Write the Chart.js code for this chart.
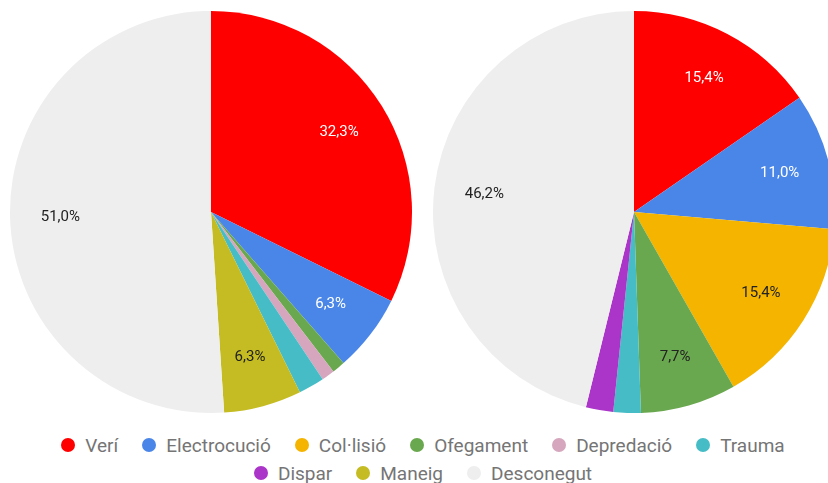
<!DOCTYPE html>
<html>
<head>
<meta charset="utf-8">
<script src="https://cdn.jsdelivr.net/npm/chart.js@4/dist/chart.umd.min.js"></script>
<style>
  html, body { margin: 0; padding: 0; background: #fff; overflow: hidden; }
  body { width: 828px; height: 483px; position: relative; font-family: Roboto, sans-serif; }
  .pie { position: absolute; top: 11px; width: 402px; height: 402px; }
  #legend { position: absolute; left: 18px; top: 431px; width: 810px; color: #757575; font-size: 19px; }
  .row { display: flex; justify-content: center; height: 28px; align-items: center; white-space: nowrap; }
  .item { display: flex; align-items: center; margin: 0 12px; }
  .dot { width: 14px; height: 14px; border-radius: 50%; margin-right: 10px; }
</style>
</head>
<body>
<div class="pie" style="left:10px"><canvas id="pieLeft"></canvas></div>
<div class="pie" style="left:433px"><canvas id="pieRight"></canvas></div>
<div id="legend"></div>
<script>
// ── Data ─────────────────────────────────────────────
const categories  = ['Verí', 'Electrocució', 'Col·lisió', 'Ofegament', 'Depredació', 'Trauma', 'Dispar', 'Maneig', 'Desconegut'];
const leftValues  = [31, 6, 0, 1, 1, 2, 0, 6, 49];
const rightValues = [14, 10, 14, 7, 0, 2, 2, 0, 42];
const colors      = ['#ff0000', '#4a86e8', '#f4b400', '#6aa84f', '#d5a6bd', '#46bdc6', '#aa35c8', '#c4bc22', '#eeeeee'];
const labelColors = ['#ffffff', '#ffffff', '#222222', '#222222', '#222222', '#222222', '#ffffff', '#222222', '#222222'];
const legendRows  = [[0, 1, 2, 3, 4, 5], [6, 7, 8]];

// ── Percent labels inside slices ─────────────────────
const sliceLabels = {
  id: 'sliceLabels',
  afterDatasetsDraw(chart) {
    const ctx  = chart.ctx;
    const data = chart.data.datasets[0].data;
    const total = data.reduce((a, b) => a + b, 0);
    const meta = chart.getDatasetMeta(0);
    ctx.save();
    ctx.font = '15px Roboto, sans-serif';
    ctx.textAlign = 'center';
    ctx.textBaseline = 'middle';
    meta.data.forEach((arc, i) => {
      const pct = data[i] / total * 100;
      if (pct < 5) return;
      const p = arc.getProps(['x', 'y', 'startAngle', 'endAngle', 'outerRadius'], true);
      const mid = (p.startAngle + p.endAngle) / 2;
      const r = p.outerRadius * 0.75;
      ctx.fillStyle = labelColors[i];
      ctx.fillText(pct.toFixed(1).replace('.', ',') + '%', p.x + Math.cos(mid) * r, p.y + Math.sin(mid) * r);
    });
    ctx.restore();
  }
};

function makePie(id, values) {
  return new Chart(document.getElementById(id), {
    type: 'pie',
    data: {
      labels: categories,
      datasets: [{
        data: values,
        backgroundColor: colors,
        borderColor: '#ffffff',
        borderWidth: 0
      }]
    },
    options: {
      animation: false, responsive: true, maintainAspectRatio: false,
      layout: { padding: 0 },
      plugins: { legend: { display: false }, tooltip: { enabled: false } }
    },
    plugins: [sliceLabels]
  });
}

makePie('pieLeft', leftValues);
makePie('pieRight', rightValues);

// ── Legend ───────────────────────────────────────────
const legend = document.getElementById('legend');
legendRows.forEach(row => {
  const div = document.createElement('div');
  div.className = 'row';
  row.forEach(i => {
    const item = document.createElement('div');
    item.className = 'item';
    item.innerHTML = `<span class="dot" style="background:${colors[i]}"></span>${categories[i]}`;
    div.appendChild(item);
  });
  legend.appendChild(div);
});
</script>
</body>
</html>
